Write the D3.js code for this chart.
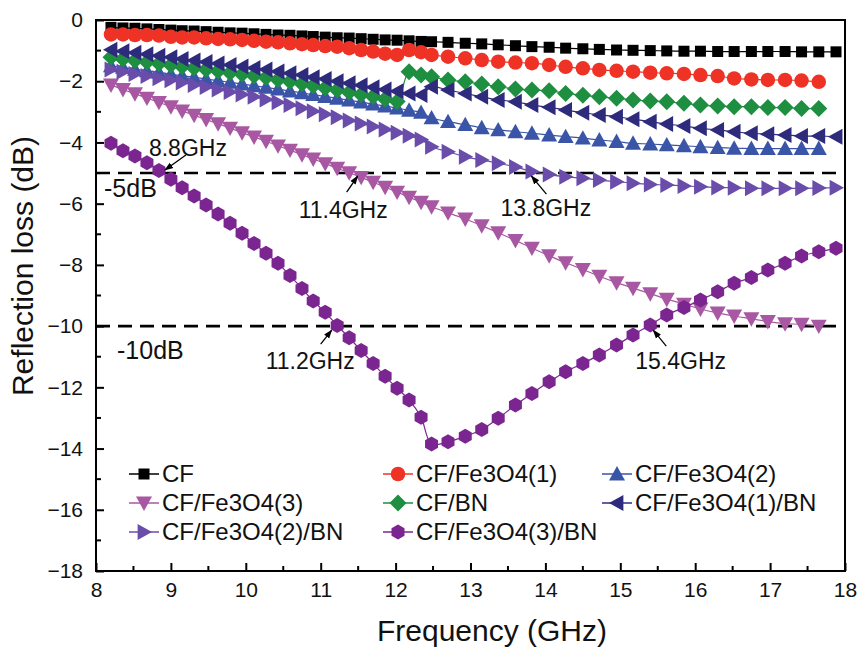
<!DOCTYPE html>
<html>
<head>
<meta charset="utf-8">
<script src="https://cdn.jsdelivr.net/npm/d3@7"></script>
<style>
  html, body { margin: 0; padding: 0; background: #fff; }
  svg { display: block; font-family: "Liberation Sans", Arial, sans-serif; }
</style>
</head>
<body>
<svg id="chart" width="860" height="649"></svg>
<script>
// ---------------- DATA ----------------
// X-band and Ku-band measurement frequencies (GHz)
const freqX = [8.2, 8.36, 8.52, 8.68, 8.84, 9.0, 9.15, 9.31, 9.47, 9.63, 9.79, 9.95, 10.11, 10.27, 10.43, 10.59, 10.75, 10.9, 11.06, 11.22, 11.38, 11.54, 11.7, 11.86, 12.02, 12.18, 12.34];
const freqKu = [12.48, 12.7, 12.93, 13.15, 13.37, 13.6, 13.82, 14.05, 14.27, 14.5, 14.72, 14.95, 15.17, 15.4, 15.62, 15.85, 16.07, 16.3, 16.52, 16.75, 16.97, 17.2, 17.42, 17.65, 17.88];

const seriesNames = ["CF", "CF/Fe3O4(1)", "CF/Fe3O4(2)", "CF/Fe3O4(3)", "CF/BN", "CF/Fe3O4(1)/BN", "CF/Fe3O4(2)/BN", "CF/Fe3O4(3)/BN"];

// Reflection loss (dB)
const cfX = [-0.24, -0.26, -0.27, -0.29, -0.31, -0.33, -0.35, -0.36, -0.38, -0.40, -0.42, -0.43, -0.45, -0.47, -0.49, -0.50, -0.52, -0.54, -0.56, -0.58, -0.59, -0.61, -0.63, -0.65, -0.66, -0.68, -0.70];
const cfKu = [-0.71, -0.73, -0.76, -0.78, -0.81, -0.84, -0.87, -0.89, -0.92, -0.94, -0.96, -0.98, -0.99, -1.00, -1.01, -1.02, -1.02, -1.03, -1.03, -1.03, -1.03, -1.03, -1.04, -1.04, -1.04];

const fe1X = [-0.47, -0.47, -0.49, -0.49, -0.51, -0.55, -0.57, -0.57, -0.60, -0.62, -0.63, -0.65, -0.68, -0.71, -0.73, -0.76, -0.79, -0.82, -0.85, -0.87, -0.92, -0.98, -1.03, -1.10, -1.14, -0.98, -1.05];
const fe1Ku = [-1.14, -1.20, -1.25, -1.31, -1.36, -1.39, -1.41, -1.47, -1.53, -1.58, -1.63, -1.66, -1.69, -1.72, -1.74, -1.76, -1.80, -1.83, -1.91, -1.94, -1.96, -1.96, -1.98, -2.02];

const fe2X = [-1.50, -1.55, -1.61, -1.66, -1.71, -1.77, -1.82, -1.87, -1.93, -1.98, -2.04, -2.09, -2.15, -2.20, -2.26, -2.32, -2.38, -2.44, -2.50, -2.56, -2.62, -2.68, -2.75, -2.81, -2.88, -2.95, -3.02];
const fe2Ku = [-3.20, -3.32, -3.42, -3.52, -3.59, -3.65, -3.70, -3.76, -3.81, -3.86, -3.92, -3.97, -4.03, -4.05, -4.08, -4.11, -4.14, -4.17, -4.19, -4.20, -4.20, -4.20, -4.20, -4.20];

const fe3X = [-2.12, -2.27, -2.41, -2.55, -2.69, -2.83, -2.97, -3.11, -3.25, -3.39, -3.53, -3.68, -3.82, -3.96, -4.11, -4.25, -4.40, -4.54, -4.69, -4.84, -4.99, -5.14, -5.30, -5.46, -5.62, -5.79, -5.95];
const fe3Ku = [-6.10, -6.30, -6.50, -6.72, -6.95, -7.20, -7.45, -7.70, -7.93, -8.15, -8.37, -8.58, -8.76, -8.94, -9.12, -9.28, -9.44, -9.57, -9.67, -9.76, -9.85, -9.92, -9.94, -10.00];

const bnX = [-1.22, -1.27, -1.32, -1.37, -1.42, -1.47, -1.52, -1.57, -1.62, -1.67, -1.72, -1.77, -1.82, -1.88, -1.95, -2.01, -2.08, -2.15, -2.22, -2.29, -2.36, -2.43, -2.50, -2.58, -2.66, -1.69, -1.80];
const bnKu = [-1.85, -1.96, -2.02, -2.09, -2.18, -2.25, -2.29, -2.31, -2.40, -2.46, -2.51, -2.56, -2.61, -2.65, -2.67, -2.72, -2.78, -2.81, -2.83, -2.83, -2.86, -2.86, -2.89, -2.89];

const fe1bnX = [-0.97, -1.02, -1.07, -1.12, -1.17, -1.22, -1.27, -1.32, -1.37, -1.42, -1.47, -1.52, -1.57, -1.62, -1.68, -1.74, -1.80, -1.87, -1.93, -2.00, -2.07, -2.13, -2.20, -2.27, -2.33, -2.40, -2.45];
const fe1bnKu = [-2.18, -2.29, -2.40, -2.51, -2.61, -2.67, -2.78, -2.85, -2.94, -3.03, -3.10, -3.16, -3.24, -3.32, -3.40, -3.46, -3.54, -3.59, -3.65, -3.70, -3.73, -3.76, -3.79, -3.79, -3.81];

const fe2bnX = [-1.62, -1.69, -1.76, -1.83, -1.90, -1.97, -2.04, -2.12, -2.19, -2.27, -2.35, -2.43, -2.51, -2.60, -2.69, -2.78, -2.88, -2.98, -3.08, -3.18, -3.28, -3.38, -3.48, -3.58, -3.68, -3.78, -3.90];
const fe2bnKu = [-4.14, -4.30, -4.47, -4.57, -4.68, -4.80, -4.95, -5.05, -5.12, -5.17, -5.23, -5.28, -5.33, -5.37, -5.39, -5.42, -5.45, -5.47, -5.48, -5.50, -5.50, -5.50, -5.50, -5.49, -5.48];

const fe3bnX = [-4.03, -4.27, -4.44, -4.66, -4.92, -5.20, -5.48, -5.75, -6.04, -6.34, -6.64, -6.97, -7.30, -7.62, -7.95, -8.35, -8.77, -9.18, -9.55, -9.98, -10.38, -10.80, -11.22, -11.64, -12.03, -12.41, -12.98];
const fe3bnKu = [-13.85, -13.78, -13.60, -13.38, -13.01, -12.58, -12.20, -11.82, -11.49, -11.22, -10.94, -10.62, -10.29, -9.96, -9.64, -9.39, -9.15, -8.88, -8.60, -8.41, -8.17, -7.95, -7.71, -7.57, -7.46];

const xTicks = [8, 9, 10, 11, 12, 13, 14, 15, 16, 17, 18];
const yTicks = [0, -2, -4, -6, -8, -10, -12, -14, -16, -18];

const refLevels = [-5, -10];
const refLabels = ["-5dB", "-10dB"];

const annotLabels = ["8.8GHz", "11.4GHz", "13.8GHz", "11.2GHz", "15.4GHz"];
const annotFreq = [8.8, 11.4, 13.8, 11.2, 15.4];
const annotDB = [-5, -5, -5, -10, -10];

// ---------------- STYLE ----------------
const colors = ["#000000", "#EE3326", "#3A55A8", "#A858A2", "#1E8E40", "#2E2B7C", "#6A4CAA", "#7B2590"];
const shapes = ["square", "circle", "triUp", "triDown", "diamond", "triLeft", "triRight", "hexagon"];

const m = { left: 96, right: 845, top: 20, bottom: 571 };

const svg = d3.select("#chart");
const x = d3.scaleLinear().domain([8, 18]).range([m.left, m.right]);
const y = d3.scaleLinear().domain([-18, 0]).range([m.bottom, m.top]);

// marker path generator (centered at 0,0); s = nominal size in px
function markerPath(shape, s) {
  const r = s / 2;
  switch (shape) {
    case "square": return `M${-r},${-r}H${r}V${r}H${-r}Z`;
    case "circle": return d3.symbol(d3.symbolCircle, Math.PI * r * r)();
    case "diamond": return `M0,${-r}L${r},0L0,${r}L${-r},0Z`;
    case "triUp": return `M0,${-r}L${r},${r * 0.8}L${-r},${r * 0.8}Z`;
    case "triDown": return `M0,${r}L${r},${-r * 0.8}L${-r},${-r * 0.8}Z`;
    case "triLeft": return `M${-r},0L${r * 0.8},${-r}L${r * 0.8},${r}Z`;
    case "triRight": return `M${r},0L${-r * 0.8},${-r}L${-r * 0.8},${r}Z`;
    case "hexagon": {
      const pts = d3.range(6).map(i => {
        const a = Math.PI / 6 + i * Math.PI / 3;
        return [r * Math.cos(a), r * Math.sin(a)];
      });
      return "M" + pts.map(p => p.join(",")).join("L") + "Z";
    }
  }
}
const markerSize = { square: 11, circle: 14.5, triUp: 16, triDown: 16, diamond: 17, triLeft: 16, triRight: 16, hexagon: 15 };

const xVals = [cfX, fe1X, fe2X, fe3X, bnX, fe1bnX, fe2bnX, fe3bnX];
const kuVals = [cfKu, fe1Ku, fe2Ku, fe3Ku, bnKu, fe1bnKu, fe2bnKu, fe3bnKu];
const series = seriesNames.map((name, i) => ({
  name, color: colors[i], shape: shapes[i],
  points: freqX.map((f, j) => ({ f, v: xVals[i][j] }))
    .concat(kuVals[i].map((v, j) => ({ f: freqKu[j], v })))
}));

// ---------------- AXES ----------------
const tickMinorX = d3.range(8, 18.01, 0.5).filter(v => !xTicks.includes(v));
const tickMinorY = d3.range(-17, 0, 2);

const axisG = svg.append("g");
const xAxis = d3.axisBottom(x).tickValues(xTicks).tickSize(-8).tickPadding(11).tickFormat(d3.format("d"));
const gx = axisG.append("g").attr("transform", `translate(0,${m.bottom})`).call(xAxis);
gx.selectAll("line").attr("stroke-width", 2);
gx.selectAll("text").attr("font-size", 21).attr("fill", "#111");
gx.select(".domain").remove();
axisG.append("g").selectAll("line").data(tickMinorX).join("line")
  .attr("x1", d => x(d)).attr("x2", d => x(d)).attr("y1", m.bottom).attr("y2", m.bottom - 5)
  .attr("stroke", "#000").attr("stroke-width", 2);

const yAxis = d3.axisLeft(y).tickValues(yTicks).tickSize(-8).tickPadding(13).tickFormat(d3.format("d"));
const gy = axisG.append("g").attr("transform", `translate(${m.left},0)`).call(yAxis);
gy.selectAll("line").attr("stroke-width", 2);
gy.selectAll("text").attr("font-size", 21).attr("fill", "#111");
gy.select(".domain").remove();
axisG.append("g").selectAll("line").data(tickMinorY).join("line")
  .attr("x1", m.left).attr("x2", m.left + 5).attr("y1", d => y(d)).attr("y2", d => y(d))
  .attr("stroke", "#000").attr("stroke-width", 2);

svg.append("rect").attr("x", m.left).attr("y", m.top)
  .attr("width", m.right - m.left).attr("height", m.bottom - m.top)
  .attr("fill", "none").attr("stroke", "#000").attr("stroke-width", 2);

svg.append("text").attr("x", 492).attr("y", 641)
  .attr("text-anchor", "middle").attr("font-size", 30).attr("fill", "#111").text("Frequency (GHz)");
svg.append("text").attr("transform", `translate(33,266) rotate(-90)`)
  .attr("text-anchor", "middle").attr("font-size", 30).attr("fill", "#111").text("Reflection loss (dB)");

// ---------------- REFERENCE LINES ----------------
svg.append("g").selectAll("line").data(refLevels).join("line")
  .attr("x1", m.left).attr("x2", m.right).attr("y1", d => y(d)).attr("y2", d => y(d))
  .attr("stroke", "#000").attr("stroke-width", 2.6).attr("stroke-dasharray", "14,8");

// ---------------- SERIES ----------------
const line = d3.line().x(d => x(d.f)).y(d => y(d.v)).curve(d3.curveCatmullRom.alpha(0.5));
const sg = svg.append("g");
series.forEach(s => {
  const g = sg.append("g");
  g.append("path").attr("d", line(s.points)).attr("fill", "none").attr("stroke", s.color).attr("stroke-width", 1.2);
  g.selectAll("path.mk").data(s.points).join("path").attr("class", "mk")
    .attr("transform", d => `translate(${x(d.f)},${y(d.v)})`)
    .attr("d", markerPath(s.shape, markerSize[s.shape]))
    .attr("fill", s.color);
});

// ---------------- ANNOTATIONS ----------------
svg.append("defs").append("marker").attr("id", "ah").attr("viewBox", "0 0 10 10")
  .attr("refX", 9).attr("refY", 5).attr("markerWidth", 7).attr("markerHeight", 7)
  .attr("orient", "auto").append("path").attr("d", "M0,1.5L10,5L0,8.5Z").attr("fill", "#000");

const annotTail = [[30, -18], [-4, 19], [16, 21], [-15, 18], [16, 20]];
const annotHead = [[9, -3], [7, 3], [1, 3], [-4, 4], [3, 4]];
const annotText = [[-7, -17], [-52, 45], [-30, 43], [-70, 43], [-15, 43]];
const ag = svg.append("g");
annotLabels.forEach((lab, i) => {
  const px = x(annotFreq[i]), py = y(annotDB[i]);
  ag.append("line")
    .attr("x1", px + annotTail[i][0]).attr("y1", py + annotTail[i][1])
    .attr("x2", px + annotHead[i][0]).attr("y2", py + annotHead[i][1])
    .attr("stroke", "#000").attr("stroke-width", 1.3).attr("marker-end", "url(#ah)");
  ag.append("text").attr("x", px + annotText[i][0]).attr("y", py + annotText[i][1])
    .attr("font-size", 23).attr("fill", "#111").text(lab);
});
const refTextPos = [[8, 24], [21, 33]];
refLabels.forEach((lab, i) => {
  ag.append("text").attr("x", m.left + refTextPos[i][0]).attr("y", y(refLevels[i]) + refTextPos[i][1])
    .attr("font-size", 25).attr("fill", "#111").text(lab);
});

// ---------------- LEGEND ----------------
const legCols = [146, 400, 619];
const legRows = [474, 503, 532];
const lg = svg.append("g");
series.forEach((s, i) => {
  const cx = legCols[i % 3], cy = legRows[Math.floor(i / 3)];
  lg.append("line").attr("x1", cx - 17).attr("x2", cx + 13).attr("y1", cy).attr("y2", cy)
    .attr("stroke", s.color).attr("stroke-width", 1.5);
  lg.append("path").attr("transform", `translate(${cx - 2},${cy})`)
    .attr("d", markerPath(s.shape, markerSize[s.shape])).attr("fill", s.color);
  lg.append("text").attr("x", cx + 16).attr("y", cy + 8).attr("font-size", 24).attr("fill", "#111").text(s.name);
});
</script>
</body>
</html>
